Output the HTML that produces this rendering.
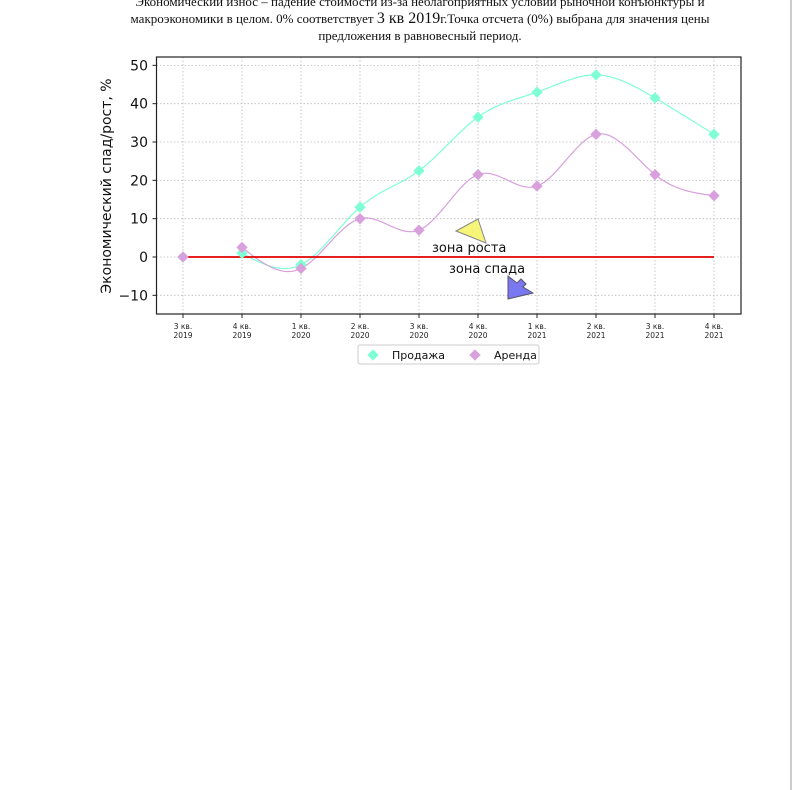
<!DOCTYPE html>
<html><head><meta charset="utf-8"><style>
body{margin:0;background:#fff;width:792px;height:790px;overflow:hidden;position:relative;font-family:"Liberation Serif",serif}
.title{position:absolute;left:100px;width:640px;top:-7px;text-align:center;font-size:13px;line-height:17px;color:#111}
.edge{position:absolute;right:0;top:0;width:2px;height:790px;background:#ccc}
</style></head><body>
<div class="title">Экономический износ – падение стоимости из-за неблагоприятных условий рыночной конъюнктуры и макроэкономики в целом. 0% соответствует <span style="font-size:16px">3 кв 2019</span>г.Точка отсчета (0%) выбрана для значения цены предложения в равновесный период.</div>
<div class="edge"></div>
<svg id="chart" width="792" height="790" style="position:absolute;left:0;top:0" font-family="DejaVu Sans, sans-serif"></svg>
<script>
const categories=["3 кв.|2019","4 кв.|2019","1 кв.|2020","2 кв.|2020","3 кв.|2020","4 кв.|2020","1 кв.|2021","2 кв.|2021","3 кв.|2021","4 кв.|2021"];
const saleValues=[0,1,-2,13,22.5,36.5,43,47.5,41.5,32];
const rentValues=[0,2.5,-3,10,7,21.5,18.5,32,21.5,16];
const yTicks=[50,40,30,20,10,0,-10];
const NS="http://www.w3.org/2000/svg";
const svg=document.getElementById('chart');
const L=156.5,R=741,T=57,B=314;
const xs=i=>183+i*59;
const ys=v=>257-v*3.833;
function el(tag,attrs,parent){const e=document.createElementNS(NS,tag);for(const k in attrs)e.setAttribute(k,attrs[k]);(parent||svg).appendChild(e);return e;}
// grid
yTicks.forEach(v=>{const g=el('line',{x1:L,x2:R,y1:ys(v),y2:ys(v),stroke:'#bbb','stroke-dasharray':'1.5,2','stroke-width':0.8});


const t=el('text',{x:148,y:ys(v)+5,'text-anchor':'end','font-size':14,fill:'#111'});t.textContent=v===-10?'\u221210':v;


el('line',{x1:L-4,x2:L,y1:ys(v),y2:ys(v),stroke:'#222'});});
categories.forEach((c,i)=>{const g=el('line',{x1:xs(i),x2:xs(i),y1:T,y2:B,stroke:'#bbb','stroke-dasharray':'1.5,2','stroke-width':0.8});


el('line',{x1:xs(i),x2:xs(i),y1:B,y2:B+4,stroke:'#222'});
const p=c.split('|');const t=el('text',{x:xs(i),y:329,'text-anchor':'middle','font-size':7.5,fill:'#222'});


el('tspan',{x:xs(i),dy:0},t).textContent=p[0];el('tspan',{x:xs(i),dy:9},t).textContent=p[1];});
const fr=el('rect',{x:L,y:T,width:R-L,height:B-T,fill:'none',stroke:'#222','stroke-width':1.2});


const yl=el('text',{transform:'translate(111,186) rotate(-90)','text-anchor':'middle','font-size':14,fill:'#111'});yl.textContent='Экономический спад/рост, %';


// natural cubic spline
function spline(xv,yv){const n=xv.length,h=[],a=[],l=[1],mu=[0],z=[0],c=new Array(n).fill(0),b=[],d=[];
for(let i=0;i<n-1;i++)h[i]=xv[i+1]-xv[i];
for(let i=1;i<n-1;i++)a[i]=3/h[i]*(yv[i+1]-yv[i])-3/h[i-1]*(yv[i]-yv[i-1]);
for(let i=1;i<n-1;i++){l[i]=2*(xv[i+1]-xv[i-1])-h[i-1]*mu[i-1];mu[i]=h[i]/l[i];z[i]=(a[i]-h[i-1]*z[i-1])/l[i];}
for(let j=n-2;j>=0;j--){c[j]=(j===n-2?0:z[j]-mu[j]*c[j+1]);if(j<n-2)c[j]=z[j]-mu[j]*c[j+1];}
c[n-1]=0;for(let j=n-2;j>=1;j--)c[j]=z[j]-mu[j]*c[j+1];c[0]=0;
for(let j=0;j<n-1;j++){b[j]=(yv[j+1]-yv[j])/h[j]-h[j]*(c[j+1]+2*c[j])/3;d[j]=(c[j+1]-c[j])/(3*h[j]);}
let pts=[];for(let j=0;j<n-1;j++)for(let s=0;s<=20;s++){const t=s/20*h[j];pts.push([xv[j]+t,yv[j]+b[j]*t+c[j]*t*t+d[j]*t*t*t]);}
return pts;}
function drawSeries(vals,color,name){const idx=vals.map((v,i)=>i).slice(1);
const pts=spline(idx,idx.map(i=>vals[i]));
const p=el('path',{d:'M'+pts.map(q=>xs(q[0]).toFixed(1)+','+ys(q[1]).toFixed(1)).join('L'),fill:'none',stroke:color,'stroke-width':1.2});


return ()=>vals.forEach((v,i)=>{const m=el('rect',{x:xs(i)-4,y:ys(v)-4,width:8,height:8,fill:color,transform:`rotate(45 ${xs(i)} ${ys(v)})`});

});}
const ds=drawSeries(saleValues,'#7fffd4','sale');
const dr=drawSeries(rentValues,'#d8a0dc','rent');
const zl=el('line',{x1:xs(0),x2:xs(9),y1:ys(0),y2:ys(0),stroke:'#e00000','stroke-width':1.8});


ds();dr();
// annotations
const a1=el('polygon',{points:'456,231 478,219 486,243',fill:'#f6f57a',stroke:'#888','stroke-width':1});


const t1=el('text',{x:432,y:252,'font-size':13,fill:'#111'});t1.textContent='зона роста';


const a2=el('polygon',{points:'508,276 517,283 521,279 526,284 523,287 533,293 508,299',fill:'#7a78f0',stroke:'#556','stroke-width':1});


const t2=el('text',{x:449,y:273,'font-size':13,fill:'#111'});t2.textContent='зона спада';


// legend
const lg=el('rect',{x:358,y:345,width:181,height:19,fill:'#fff',stroke:'#ccc',rx:2});


[['Продажа','#7fffd4',373,392],['Аренда','#d8a0dc',475,494]].forEach(e=>{
const m=el('rect',{x:e[2]-4,y:351,width:8,height:8,fill:e[1],transform:`rotate(45 ${e[2]} 355)`});


const t=el('text',{x:e[3],y:359,'font-size':11,fill:'#111'});t.textContent=e[0];

});
</script>
</body></html>
